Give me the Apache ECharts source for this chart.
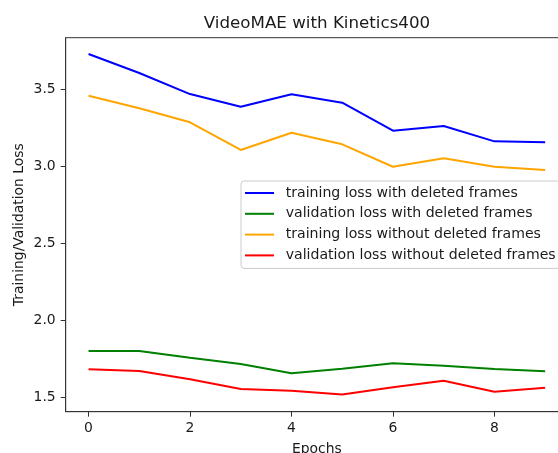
<!DOCTYPE html>
<html>
<head>
<meta charset="utf-8">
<title>VideoMAE with Kinetics400</title>
<script src="https://cdn.jsdelivr.net/npm/echarts@6/dist/echarts.min.js"></script>
<style>
  html, body { margin: 0; padding: 0; background: #ffffff; }
  #chart { width: 558px; height: 453px; }
</style>
</head>
<body>
<div id="chart"></div>
<script>
// Loss per epoch for the four training runs
const epochs = [0, 1, 2, 3, 4, 5, 6, 7, 8, 9];
const trainLossDeleted = [3.729, 3.606, 3.469, 3.387, 3.468, 3.413, 3.231, 3.262, 3.162, 3.156];
const valLossDeleted   = [1.801, 1.801, 1.757, 1.716, 1.656, 1.686, 1.721, 1.705, 1.684, 1.669];
const trainLoss        = [3.458, 3.377, 3.286, 3.106, 3.218, 3.143, 2.997, 3.052, 2.997, 2.976];
const valLoss          = [1.682, 1.671, 1.617, 1.554, 1.543, 1.519, 1.565, 1.608, 1.536, 1.562];

const seriesNames = [
  'training loss with deleted frames',
  'validation loss with deleted frames',
  'training loss without deleted frames',
  'validation loss without deleted frames'
];
const seriesColors = ['#0000ff', '#008000', '#ffa500', '#ff0000'];
const seriesValues = [trainLossDeleted, valLossDeleted, trainLoss, valLoss];

const xTicks = [0, 2, 4, 6, 8];
const yTicks = [1.5, 2.0, 2.5, 3.0, 3.5];

const FONT = 'DejaVu Sans';
const TEXT = '#1a1a1a';
const SPINE = '#333333';

const chart = echarts.init(document.getElementById('chart'), null, { renderer: 'canvas' });

chart.setOption({
  animation: false,
  backgroundColor: '#ffffff',
  textStyle: { fontFamily: FONT },
  graphic: [{
    type: 'text',
    x: 317,
    y: 23.5,
    style: {
      text: 'VideoMAE with Kinetics400',
      font: '16.7px "DejaVu Sans"',
      fill: TEXT,
      textAlign: 'center',
      textVerticalAlign: 'middle'
    }
  }],
  grid: {
    left: 65.7,
    top: 37.7,
    width: 502.3,
    height: 374,
    show: true,
    borderColor: SPINE,
    borderWidth: 1,
    backgroundColor: 'transparent',
    containLabel: false,
    outerBoundsMode: 'none'
  },
  legend: {
    orient: 'vertical',
    left: 241,
    top: 181,
    icon: 'rect',
    itemWidth: 29,
    itemHeight: 2,
    itemGap: 6.8,
    padding: [5, 8, 6, 4],
    backgroundColor: 'rgba(255,255,255,0.8)',
    borderColor: '#cccccc',
    borderWidth: 1,
    borderRadius: 3,
    textStyle: {
      fontFamily: FONT,
      fontSize: 14.1,
      lineHeight: 14,
      color: TEXT,
      padding: [0, 0, 0, 6.7]
    },
    data: seriesNames
  },
  xAxis: {
    type: 'value',
    min: -0.45,
    max: 9.45,
    name: 'Epochs',
    nameLocation: 'middle',
    nameGap: 31,
    nameMoveOverlap: false,
    nameTextStyle: { fontFamily: FONT, fontSize: 13.9, color: TEXT },
    axisLine: { show: true, onZero: false, lineStyle: { color: SPINE, width: 1 } },
    axisTick: { show: true, length: 5, customValues: xTicks, lineStyle: { color: SPINE, width: 1 } },
    axisLabel: {
      show: true,
      margin: 10,
      customValues: xTicks,
      fontFamily: FONT,
      fontSize: 13.9,
      color: TEXT,
      formatter: v => String(v)
    },
    splitLine: { show: false }
  },
  yAxis: {
    type: 'value',
    min: 1.407,
    max: 3.835,
    name: 'Training/Validation Loss',
    nameLocation: 'middle',
    nameGap: 39,
    nameMoveOverlap: false,
    nameRotate: 90,
    nameTextStyle: { fontFamily: FONT, fontSize: 13.9, color: TEXT },
    axisLine: { show: true, onZero: false, lineStyle: { color: SPINE, width: 1 } },
    axisTick: { show: true, length: 5, customValues: yTicks, lineStyle: { color: SPINE, width: 1 } },
    axisLabel: {
      show: true,
      margin: 10,
      customValues: yTicks,
      fontFamily: FONT,
      fontSize: 13.9,
      color: TEXT,
      formatter: v => Number(v).toFixed(1)
    },
    splitLine: { show: false }
  },
  series: seriesNames.map((name, i) => ({
    name: name,
    type: 'line',
    data: epochs.map((e, j) => [e, seriesValues[i][j]]),
    showSymbol: false,
    symbol: 'none',
    lineStyle: { color: seriesColors[i], width: 2 },
    itemStyle: { color: seriesColors[i] },
    z: 2
  }))
});
</script>
</body>
</html>
